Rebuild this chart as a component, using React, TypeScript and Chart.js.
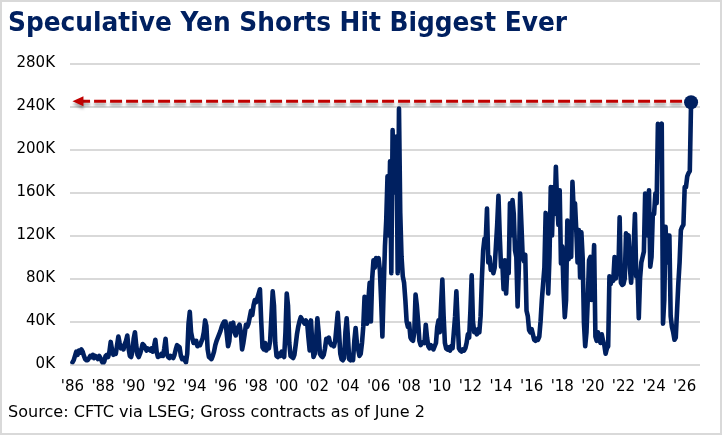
import React, { useEffect, useRef } from "react";
import { Chart, registerables } from "chart.js";

Chart.register(...registerables);

const TITLE = "Speculative Yen Shorts Hit Biggest Ever";
const SOURCE = "Source: CFTC via LSEG; Gross contracts as of June 2";
const FIRST_YEAR = 1986;
const Y_MAX_K = 280;
const Y_STEP_K = 40;
const X_STEP_YEARS = 2;

// Gross speculative yen short contracts, thousands, monthly (Jan..Dec per row)
const shorts1986to1995 = [
  2, 4, 8, 12, 9, 13, 11, 14, 12, 8, 5, 4,
  4, 6, 8, 7, 9, 6, 8, 7, 5, 8, 6, 3,
  1, 3, 8, 9, 7, 12, 21, 14, 9, 11, 10, 18,
  26, 20, 15, 17, 14, 19, 22, 27, 15, 8, 7, 12,
  24, 30, 18, 9, 7, 10, 14, 19, 18, 16, 13, 15,
  14, 13, 15, 12, 17, 23, 12, 7, 9, 8, 10, 8,
  15, 24, 10, 7, 6, 8, 7, 6, 9, 14, 18, 17,
  16, 8, 5, 6, 4, 2, 10, 38, 49, 30, 24, 20,
  20, 22, 17, 19, 18, 21, 24, 30, 41, 36, 14, 7,
  6, 5, 8, 12, 18, 22, 25, 28, 31, 35, 38, 40,
];
const shorts1996to2005 = [
  40, 28, 17, 22, 38, 36, 39, 30, 27, 31, 35, 37,
  30, 14, 20, 28, 37, 35, 38, 44, 50, 46, 55, 60,
  58, 62, 66, 70, 40, 16, 14, 20, 13, 18, 15, 22,
  45, 68, 55, 20, 8, 7, 10, 8, 12, 9, 7, 30,
  66, 55, 20, 8, 7, 6, 9, 18, 28, 35, 40, 44,
  42, 40, 38, 41, 39, 25, 13, 41, 20, 7, 10, 22,
  43, 30, 10, 8, 7, 9, 15, 24, 22, 25, 20, 18,
  19, 17, 22, 35, 48, 30, 10, 5, 4, 6, 30, 43,
  25, 5, 4, 6, 4, 22, 34, 20, 14, 8, 10, 20,
  35, 63, 45, 38, 60, 76, 40, 80, 97, 90, 99, 96,
];
const shorts2006to2015 = [
  99, 88, 60, 26, 70, 110, 134, 175, 120, 189, 85, 218,
  160, 189, 212, 85, 238, 141, 100, 82, 76, 60, 40, 35,
  38, 25, 23, 22, 30, 65, 55, 40, 22, 18, 20, 21,
  20, 37, 25, 17, 15, 18, 16, 14, 17, 20, 35, 41,
  30, 55, 79, 45, 20, 15, 14, 16, 13, 17, 15, 30,
  45, 68, 40, 15, 13, 12, 14, 13, 15, 20, 28, 25,
  50, 83, 40, 30, 32, 28, 33, 30, 45, 80, 106, 117,
  115, 145, 95, 100, 88, 92, 85, 90, 110, 130, 157, 120,
  91, 95, 70, 97, 66, 90, 85, 150, 120, 153, 140, 106,
  100, 54, 90, 159, 130, 100, 96, 102, 50, 45, 32, 30,
];
const shorts2016to2026 = [
  33, 28, 23, 22, 24, 23, 26, 40, 60, 75, 90, 141,
  120, 66, 100, 165, 120, 165, 140, 184, 150, 130, 162, 94,
  110, 70, 44, 60, 134, 98, 110, 100, 170, 143, 150, 125,
  95, 125, 81, 123, 100, 39, 17, 30, 60, 97, 100, 60,
  80, 111, 26, 22, 30, 25, 20, 28, 22, 18, 10, 15,
  17, 82, 75, 80, 78, 100, 80, 90, 85, 137, 76, 74,
  75, 80, 122, 118, 120, 90, 76, 97, 110, 140, 82, 85,
  43, 80, 95, 100, 105, 159, 125, 120, 162, 91, 100, 140,
  140, 159, 150, 224, 218, 222, 224, 38, 60, 128, 95, 120,
  120, 45, 35, 30, 23, 25, 50, 75, 95, 125, 128, 130,
  165, 165, 175, 178, 180,
];
const latestDate = "2026-06-02";
const latestValueK = 244;

const NAVY = "#002060";
const RED = "#C00000";
const GRID = "#d9d9d9";

function yearFraction(iso: string): number {
  const [y, m, d] = iso.split("-").map(Number);
  const start = Date.UTC(y, 0, 1);
  const end = Date.UTC(y + 1, 0, 1);
  return y + (Date.UTC(y, m - 1, d) - start) / (end - start);
}

function buildPoints() {
  const monthly = [...shorts1986to1995, ...shorts1996to2005, ...shorts2006to2015, ...shorts2016to2026];
  const pts = monthly.map((v, i) => ({ x: FIRST_YEAR + i / 12, y: v }));
  pts.push({ x: yearFraction(latestDate), y: latestValueK });
  return pts;
}

const TICK_FONT = { family: "Tahoma, 'DejaVu Sans', sans-serif", size: 15 };

function fitText(ctx: CanvasRenderingContext2D, text: string, x: number, y: number, font: string, width: number, color: string) {
  ctx.save();
  ctx.font = font;
  ctx.fillStyle = color;
  ctx.textBaseline = "alphabetic";
  ctx.textAlign = "left";
  const w = ctx.measureText(text).width;
  ctx.translate(x, y);
  ctx.scale(width / w, 1);
  ctx.fillText(text, 0, 0);
  ctx.restore();
}

export default function App() {
  const ref = useRef<HTMLCanvasElement | null>(null);

  useEffect(() => {
    const canvas = ref.current;
    if (!canvas) return;
    const points = buildPoints();
    const lastIdx = points.length - 1;

    const decor = {
      id: "decor",
      beforeDatasetsDraw(chart: any) {
        const { ctx, scales } = chart;
        const xs = scales.x;
        const ys = scales.y;
        const yPix = ys.getPixelForValue(latestValueK) - 1;
        const xEnd = xs.getPixelForValue(points[lastIdx].x) - 9;
        const xTip = xs.getPixelForValue(FIRST_YEAR);
        ctx.save();
        ctx.shadowColor = "rgba(0,0,0,0.35)";
        ctx.shadowBlur = 3;
        ctx.shadowOffsetY = 3;
        ctx.strokeStyle = RED;
        ctx.lineWidth = 3;
        ctx.setLineDash([12, 4]);
        ctx.beginPath();
        ctx.moveTo(xEnd, yPix);
        ctx.lineTo(xTip + 9, yPix);
        ctx.stroke();
        ctx.setLineDash([]);
        ctx.fillStyle = RED;
        ctx.beginPath();
        ctx.moveTo(xTip, yPix);
        ctx.lineTo(xTip + 11, yPix - 5);
        ctx.lineTo(xTip + 11, yPix + 5);
        ctx.closePath();
        ctx.fill();
        ctx.restore();
      },
      afterDraw(chart: any) {
        const { ctx } = chart;
        fitText(ctx, TITLE, 8, 31, "bold 26px Tahoma, 'DejaVu Sans', sans-serif", 559, NAVY);
        fitText(ctx, SOURCE, 8, 417, "15px Tahoma, 'DejaVu Sans', sans-serif", 417, "#000");
        ctx.save();
        ctx.strokeStyle = GRID;
        ctx.lineWidth = 2;
        ctx.strokeRect(1, 1, 720, 433);
        ctx.restore();
      },
    };

    const chart = new Chart(canvas, {
      type: "line",
      data: {
        datasets: [
          {
            data: points,
            borderColor: NAVY,
            backgroundColor: NAVY,
            borderWidth: 4.6,
            borderJoinStyle: "round",
            borderCapStyle: "round",
            tension: 0,
            pointRadius: (c: any) => (c.dataIndex === lastIdx ? 7 : 0),
            pointBackgroundColor: NAVY,
            pointBorderWidth: 0,
            pointHoverRadius: 0,
          },
        ],
      },
      options: {
        animation: false,
        responsive: false,
        devicePixelRatio: 1,
        events: [],
        layout: { padding: { left: 0, right: 24, top: 63.5, bottom: 0 } },
        plugins: { legend: { display: false }, tooltip: { enabled: false }, title: { display: false } },
        scales: {
          x: {
            type: "linear",
            min: 1985.84,
            max: 2027,
            grid: { display: false, drawTicks: false },
            border: { display: false },
            ticks: {
              stepSize: X_STEP_YEARS,
              includeBounds: false,
              autoSkip: false,
              maxRotation: 0,
              padding: 14,
              color: "#000",
              font: TICK_FONT,
              callback: (v: any) => "'" + String(v).slice(2),
            },
            afterFit: (s: any) => {
              s.height = 71.5;
            },
          },
          y: {
            min: 0,
            max: Y_MAX_K,
            grid: { color: GRID, lineWidth: 2, drawTicks: false },
            border: { display: false },
            ticks: {
              stepSize: Y_STEP_K,
              padding: 15,
              color: "#000",
              font: TICK_FONT,
              callback: (v: any) => v + "K",
            },
            afterFit: (s: any) => {
              s.width = 70;
            },
          },
        },
      },
      plugins: [decor],
    } as any);

    return () => chart.destroy();
  }, []);

  return (
    <div style={{ position: "absolute", left: 0, top: 0, width: 724, height: 436, background: "#fff" }}>
      <canvas ref={ref} width={724} height={436} style={{ width: 724, height: 436, display: "block" }} />
    </div>
  );
}
